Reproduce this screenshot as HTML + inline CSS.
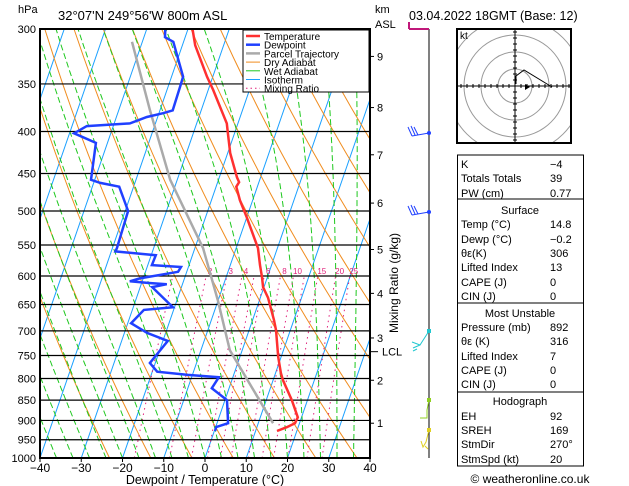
<!DOCTYPE html>
<html><head><meta charset="utf-8"><style>
body{margin:0;background:#fff}
svg{display:block;font-family:"Liberation Sans",sans-serif}
</style></head><body>
<svg id="c" width="629" height="486" viewBox="0 0 629 486" xmlns="http://www.w3.org/2000/svg">
<defs><clipPath id="plot"><rect x="40" y="29" width="330" height="429"/></clipPath>
<clipPath id="hodo"><rect x="457" y="29" width="114" height="114"/></clipPath></defs>
<g id="bg" clip-path="url(#plot)"></g>
<g id="fg"></g>
</svg>
<script>
// ---- data ----
const pressureLevels=[300,350,400,450,500,550,600,650,700,750,800,850,900,950,1000];
const tempTicks=[-40,-30,-20,-10,0,10,20,30,40];
const kmLabels=[9,8,7,6,5,4,3,2,1];
const kmPressures=[324,374,427,489,557,630,714,804,907];
const tempP=[300,314,343,356,391,402,425,455,461,467,485,509,555,582,602,619,638,679,698,753,788,804,850,892,907,917,927];
const tempT=[-38.9,-36.9,-31.4,-28.8,-22.7,-21.6,-19.4,-15.7,-14.8,-15.1,-13.1,-10.0,-4.7,-2.8,-1.3,-0.2,1.9,5.2,6.5,9.3,11.3,12.4,16.2,19.1,18.9,17.3,15.2];
const dewP=[300,307,311,343,353,377,380,384,391,394,402,413,458,462,467,500,555,560,566,582,585,593,604,609,612,614,619,655,660,685,704,720,766,785,792,797,822,850,907,917,927];
const dewT=[-45.5,-44.9,-42.5,-37.2,-37.1,-36.9,-39.0,-42.6,-46.2,-56.4,-58.9,-52.8,-50.9,-48.4,-43.5,-39.3,-38.9,-39.0,-28.9,-29.0,-21.8,-22.1,-30.8,-33.0,-28.2,-23.8,-27.1,-20.4,-27.2,-29.2,-24.5,-18.8,-21.3,-18.8,-11.1,-3.4,-4.2,0.5,2.7,0.1,0.2];
const parcelP=[311,377,458,555,642,739,907];
const parcelT=[-52.5,-42.4,-31.7,-18.0,-10.1,-3.0,13.6];
const mixRatios=[1,2,3,4,5,6,8,10,12,15,20,25];
const mixLabelValues=[2,3,4,6,8,10,15,20,25];
const dryThetas=[250,260,270,280,290,300,310,320,330,340,350,360,370,380,390,400,410,420,430,440,450,460];
const wetThetas=[-36,-32,-28,-24,-20,-16,-12,-8,-4,0,4,8,12,16,20,24,28,32,36];
// ---- axes ----
const NS="http://www.w3.org/2000/svg";
const yP=p=>29+Math.log(p/300)/Math.log(1000/300)*429;
const xT=(t,p)=>40+(t+40)*4.125+(458-yP(p))*0.345;
const bg=document.getElementById('bg'),fg=document.getElementById('fg');
function mk(tag,attrs,parent){const e=document.createElementNS(NS,tag);for(const k in attrs)e.setAttribute(k,attrs[k]);(parent||fg).appendChild(e);return e;}
function txt(s,x,y,attrs,parent){const e=mk('text',Object.assign({x:x,y:y,'font-size':11,fill:'#000'},attrs||{}),parent);e.textContent=s;return e;}
function pathFrom(ps,ts){return ps.map((p,i)=>(i?'L':'M')+xT(ts[i],p).toFixed(1)+','+yP(p).toFixed(1)).join('');}
// isotherms
for(let t=-120;t<=40;t+=10){const l=mk('line',{x1:xT(t,1000),y1:yP(1000),x2:xT(t,300),y2:yP(300),stroke:'#1aa0ff','stroke-width':1},bg);
}
// dry adiabats
dryThetas.forEach(th=>{const ps=[],ts=[];for(let p=1000;p>=300;p-=25){ps.push(p);ts.push(th*Math.pow(p/1000,0.286)-273.15);}
const e=mk('path',{d:pathFrom(ps,ts),stroke:'#f08c1e',fill:'none','stroke-width':1},bg);
});
// wet adiabats
function es(T){return 6.112*Math.exp(17.67*T/(T+243.5));}
wetThetas.forEach(t0=>{let T=t0+273.15,ps=[1000],ts=[t0];for(let p=1000;p>300;p-=5){const tc=T-273.15,rs=0.622*es(tc)/(p-es(tc));
const dT=(1/p)*(287*T+2.5e6*rs)/(1005+2.5e6*2.5e6*rs*0.622/(287*T*T));T-=dT*5;ps.push(p-5);ts.push(T-273.15);}
const e=mk('path',{d:pathFrom(ps,ts),stroke:'#1ec81e',fill:'none','stroke-width':1,'stroke-dasharray':'6,3'},bg);
});
// mixing ratio
function tdw(w,p){const e=w*p/(622+w),l=Math.log(e/6.112);return 243.5*l/(17.67-l);}
mixRatios.forEach(w=>{const ps=[],ts=[];for(let p=1000;p>=600;p-=20){ps.push(p);ts.push(tdw(w,p));}
const e=mk('path',{d:pathFrom(ps,ts),stroke:'#e0207a',fill:'none','stroke-width':1,'stroke-dasharray':'1.5,4'},bg);
});
mixLabelValues.forEach(w=>{const t=txt(String(w),xT(tdw(w,600),600)+4,274,{'font-size':8,fill:'#e0207a','text-anchor':'middle'},bg);
});
// pressure lines
pressureLevels.forEach(p=>{const l=mk('line',{x1:40,x2:370,y1:yP(p),y2:yP(p),stroke:'#000','stroke-width':1.2});

const t=txt(String(p),36,yP(p)+4,{'text-anchor':'end'});});
// profiles
let e=mk('path',{d:pathFrom(parcelP,parcelT),stroke:'#aaa',fill:'none','stroke-width':2.5,'clip-path':'url(#plot)'});

e=mk('path',{d:pathFrom(dewP,dewT),stroke:'#2040ff',fill:'none','stroke-width':2.5,'clip-path':'url(#plot)'});

e=mk('path',{d:pathFrom(tempP,tempT),stroke:'#ff3030',fill:'none','stroke-width':2.5,'clip-path':'url(#plot)'});

// frame
e=mk('rect',{x:40,y:29,width:330,height:429,fill:'none',stroke:'#000','stroke-width':2});

tempTicks.forEach(t=>{const l=mk('line',{x1:xT(t,1000),x2:xT(t,1000),y1:458,y2:462,stroke:'#000'});

const s=txt(String(t).replace('-','\u2212'),xT(t,1000),472,{'text-anchor':'middle','font-size':12});});
kmLabels.forEach((k,i)=>{const y=yP(kmPressures[i]);mk('line',{x1:370,x2:374,y1:y,y2:y,stroke:'#000'});
const s=txt(String(k),377,y+4);});
mk('line',{x1:370,x2:378,y1:yP(742),y2:yP(742),stroke:'#000'});
e=txt('LCL',382,yP(742)+4);
// legend
const legItems=[['Temperature','#ff3030',''],['Dewpoint','#2040ff',''],['Parcel Trajectory','#aaa',''],['Dry Adiabat','#f08c1e',''],['Wet Adiabat','#1ec81e',''],['Isotherm','#1aa0ff',''],['Mixing Ratio','#e0207a','1.5,3']];
e=mk('rect',{x:243,y:30,width:126,height:62,fill:'#fff',stroke:'#000','stroke-width':1});
legItems.forEach((it,i)=>{const y=36+i*8.7;mk('line',{x1:246,x2:260,y1:y,y2:y,stroke:it[1],'stroke-width':i<3?2.5:1,'stroke-dasharray':it[2]});
const s=txt(it[0],264,y+4,{'font-size':10});});
// wind profile
mk('line',{x1:429,x2:429,y1:29,y2:458,stroke:'#000','stroke-width':1});
mk('path',{d:'M409,29 L429,29 M409,29 L409,22',stroke:'#c0187a','stroke-width':2,fill:'none'});
[[133,'#2040ff'],[212,'#2040ff']].forEach(b=>{mk('path',{d:`M429,${b[0]} L412,${b[0]+3} M412,${b[0]+3} L408,${b[0]-6} M415,${b[0]+2} L411,${b[0]-7} M418,${b[0]+2} L414,${b[0]-6}`,stroke:b[1],fill:'none'});mk('circle',{cx:429,cy:b[0],r:2,fill:b[1]});});
mk('path',{d:'M429,331 L420,345 L412,342 M420,345 L413,348 M417,349 L413,351',stroke:'#20c8d0',fill:'none'});mk('rect',{x:427,y:329,width:4,height:4,fill:'#20c8d0'});
mk('path',{d:'M429,400 L427,410 L427,418 L420,418',stroke:'#90d020',fill:'none'});mk('rect',{x:427,y:398,width:4,height:4,fill:'#90d020'});
mk('path',{d:'M429,430 L426,442 L423,447 L421,441 M425,446 L428,449',stroke:'#e0d020',fill:'none'});mk('rect',{x:427,y:428,width:4,height:4,fill:'#e0d020'});
// text headers
txt('hPa',18,13,{'font-size':11});
e=txt("32°07'N  249°56'W  800m  ASL",58,20,{'font-size':13});
txt('km',375,13);txt('ASL',375,28);
e=txt('03.04.2022  18GMT  (Base: 12)',409,20,{'font-size':12.5});
e=txt('Dewpoint / Temperature (°C)',205,484,{'font-size':12.5,'text-anchor':'middle'});
e=txt('Mixing Ratio (g/kg)',0,0,{'font-size':12,'text-anchor':'middle',transform:'translate(398,283) rotate(-90)'});
// hodograph
const hg=mk('g',{});
const hc=mk('g',{'clip-path':'url(#hodo)'},hg);
[17,34,51,68].forEach(r=>mk('circle',{cx:515,cy:86,r:r,fill:'none',stroke:'#999'},hc));
mk('line',{x1:458,x2:571,y1:86,y2:86,stroke:'#000'},hg);mk('line',{x1:515,x2:515,y1:29,y2:143,stroke:'#000'},hg);
for(let i=-9;i<=9;i++){if(!i)continue;mk('line',{x1:515+i*6,x2:515+i*6,y1:84,y2:88,stroke:'#000'},hg);mk('line',{y1:86+i*6,y2:86+i*6,x1:513,x2:517,stroke:'#000'},hg);}
mk('path',{d:'M516,84 L516,76 L524,70 L552,87',stroke:'#000',fill:'none'},hg);
mk('path',{d:'M525,84 L530,87 L525,90Z',fill:'#000'},hg);
mk('rect',{x:457,y:29,width:114,height:114,fill:'none',stroke:'#000','stroke-width':2},hg);
txt('kt',460,39,{'font-size':10},hg);
// tables
const boxes=[[155,199],[199,303],[303,392],[392,466]];
boxes.forEach(b=>{const r=mk('rect',{x:457.5,y:b[0],width:126,height:b[1]-b[0],fill:'none',stroke:'#000'});});
const rows=[['K','-4',168],['Totals Totals','39',182],['PW (cm)','0.77',197],['#Surface','',214],['Temp (°C)','14.8',228],['Dewp (°C)','-0.2',243],['θε(K)','306',257],['Lifted Index','13',271],['CAPE (J)','0',286],['CIN (J)','0',300],['#Most Unstable','',317],['Pressure (mb)','892',331],['θε (K)','316',345],['Lifted Index','7',360],['CAPE (J)','0',374],['CIN (J)','0',388],['#Hodograph','',405],['EH','92',420],['SREH','169',434],['StmDir','270°',448],['StmSpd (kt)','20',463]];
rows.forEach(r=>{if(r[0][0]==='#'){txt(r[0].slice(1),520,r[2],{'text-anchor':'middle'});return;}
const a=txt(r[0],461,r[2]);
const b=txt(r[1].replace('-','\u2212'),550,r[2]);});
e=txt('© weatheronline.co.uk',530,483,{'font-size':12,'text-anchor':'middle'});
</script>
</body></html>
